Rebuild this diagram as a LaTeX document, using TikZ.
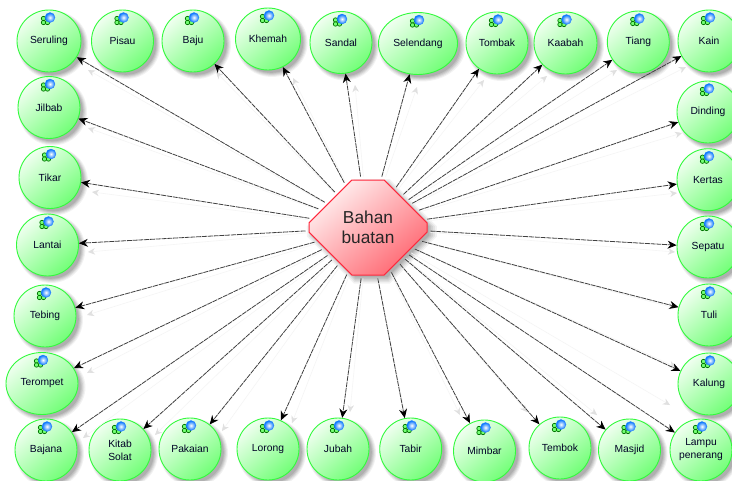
\documentclass[tikz,border=0pt]{standalone}
\usepackage{fontspec}
\setmainfont{Liberation Sans}
\usetikzlibrary{arrows.meta,shapes.geometric,shapes.misc,shadows}
\definecolor{leafedge}{RGB}{50,250,60}
\definecolor{leaflight}{RGB}{240,255,240}
\definecolor{leafdark}{RGB}{115,255,120}
\definecolor{hubedge}{RGB}{255,40,60}
\definecolor{hublight}{RGB}{255,240,240}
\definecolor{hubdark}{RGB}{255,105,115}
\tikzset{
  x=1pt,y=-1pt,
  softshadow/.style={
    general shadow={shadow xshift=3.5pt,shadow yshift=-3.5pt,shadow scale=1.10,fill=black,opacity=.05},
    general shadow={shadow xshift=3.5pt,shadow yshift=-3.5pt,shadow scale=1.07,fill=black,opacity=.06},
    general shadow={shadow xshift=3.5pt,shadow yshift=-3.5pt,shadow scale=1.04,fill=black,opacity=.07},
    general shadow={shadow xshift=3.5pt,shadow yshift=-3.5pt,shadow scale=1.01,fill=black,opacity=.08},
    general shadow={shadow xshift=3.5pt,shadow yshift=-3.5pt,shadow scale=0.98,fill=black,opacity=.09}},
  leaf/.style={ellipse,draw=leafedge,line width=0.9pt,inner sep=0pt,
    minimum width=62pt,minimum height=62pt,align=center,softshadow,
    top color=leaflight,bottom color=leafdark,shading angle=40,
    font=\fontsize{10.3}{13}\selectfont,text=black!85!blue},
  hub/.style={chamfered rectangle,chamfered rectangle xsep=36pt,chamfered rectangle ysep=28pt,
    draw=hubedge,line width=1pt,inner sep=0pt,minimum width=118pt,minimum height=95pt,
    align=center,softshadow,top color=hublight,bottom color=hubdark,shading angle=40,
    font=\fontsize{17.3}{20}\selectfont,text=black!85},
  link/.style={draw=black!75,line width=0.8pt,dash pattern=on 5pt off 0.8pt,shorten <=3pt,
    -{Stealth[length=9pt,width=8pt,black]}},
  ghost/.style={draw=black!4,line width=0.6pt,shorten <=3pt,
    -{Stealth[length=7pt,width=6.5pt,black!12]}},
  badge/.pic={
    \foreach \a/\b in {-5.5/-0.5,-5.5/3.5,-1.5/3.5}
      \draw[draw=green!45!black,fill=green!55!white,line width=0.7pt] (\a,\b) circle (2.2);
    \shade[inner color=white,outer color=blue!55!cyan,draw=blue!60!cyan!85,line width=0.3pt] (1,-1.5) circle (5);
  }
}
\begin{document}
\begin{tikzpicture}
\useasboundingbox (0,0) rectangle (732,480);
\clip (0,0) rectangle (732,480);
\fill[white] (0,0) rectangle (732,480);
% hub
\node[hub] (oct) at (368,227.5) {Bahan\\buatan};
% top row
\node[leaf,minimum width=64pt] (seruling) at (49,41) {Seruling};
\node[leaf] (pisau) at (122.5,41) {Pisau};
\node[leaf] (baju) at (193,41) {Baju};
\node[leaf,minimum width=65pt] (khemah) at (268,39) {Khemah};
\node[leaf] (sandal) at (341,42.5) {Sandal};
\node[leaf,minimum width=79pt] (selendang) at (418,43.5) {Selendang};
\node[leaf] (tombak) at (497,43) {Tombak};
\node[leaf,minimum width=63pt] (kaabah) at (565.5,43) {Kaabah};
\node[leaf] (tiang) at (638.3,42) {Tiang};
\node[leaf] (kain) at (709,41) {Kain};
% left column
\node[leaf] (jilbab) at (49,107.5) {Jilbab};
\node[leaf] (tikar) at (50,177.5) {Tikar};
\node[leaf] (lantai) at (47.5,245) {Lantai};
\node[leaf] (tebing) at (45,316) {Tebing};
\node[leaf,minimum width=72pt] (terompet) at (42,383.5) {Terompet};
% right column
\node[leaf] (dinding) at (708,112) {Dinding};
\node[leaf] (kertas) at (708,179.7) {Kertas};
\node[leaf] (sepatu) at (708,247) {Sepatu};
\node[leaf] (tuli) at (709,315) {Tuli};
\node[leaf] (kalung) at (709,384) {Kalung};
% bottom row
\node[leaf] (bajana) at (46,450) {Bajana};
\node[leaf] (kitab) at (120,450) {Kitab\\Solat};
\node[leaf] (pakaian) at (190,449) {Pakaian};
\node[leaf] (lorong) at (268,449) {Lorong};
\node[leaf] (jubah) at (338,449) {Jubah};
\node[leaf] (tabir) at (410.7,449) {Tabir};
\node[leaf] (mimbar) at (484.5,451) {Mimbar};
\node[leaf] (tembok) at (560,448) {Tembok};
\node[leaf] (masjid) at (629.5,450) {Masjid};
\node[leaf] (lampu) at (701,450) {Lampu\\penerang};
% badges
\foreach \n in {seruling,pisau,baju,khemah,sandal,selendang,tombak,kaabah,tiang,kain,jilbab,tikar,lantai,tebing,terompet,dinding,kertas,sepatu,tuli,kalung,bajana,kitab,pakaian,lorong,jubah,tabir,mimbar,tembok,masjid,lampu}
  \pic at ([yshift=22pt]\n.center) {badge};
% faint ghost connectors
\foreach \n/\x/\y in {seruling/88/70,jilbab/88/128,tikar/92/192,lantai/88/252,tebing/87/315,terompet/87/373,bajana/83/438,kitab/155/435,pakaian/222/431,baju/216/72,khemah/293/78,sandal/355/85,selendang/417/87,tombak/484/80,kaabah/547/76,tiang/617/70,kain/686/67,dinding/682/133,kertas/677/193,sepatu/675/252,tuli/675/308,kalung/676/367,lampu/670/405,masjid/597/415,tembok/527/412,mimbar/460/415,tabir/405/415,jubah/350/412,lorong/292/423}{
  \coordinate (g\n) at (\x,\y);
  \draw[ghost] (oct) -- (g\n);
}
% connectors
\foreach \n in {seruling,jilbab,tikar,lantai,tebing,terompet,bajana,kitab,pakaian,lorong,jubah,tabir,mimbar,tembok,masjid,lampu,kalung,tuli,sepatu,kertas,dinding,kain,tiang,kaabah,tombak,selendang,sandal,khemah,baju}
  \draw[link] (oct) -- (\n);
\end{tikzpicture}
\end{document}
